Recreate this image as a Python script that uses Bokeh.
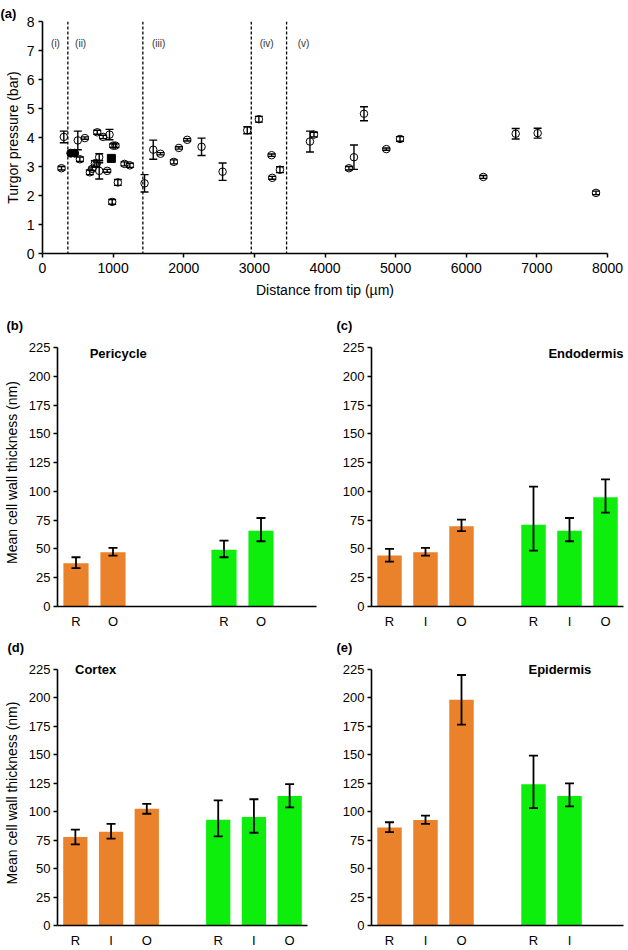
from bokeh.plotting import figure
from bokeh.models import ColumnDataSource, Whisker, TeeHead, Span, Label, FixedTicker
from bokeh.layouts import column, row
from bokeh.embed import file_html
from bokeh.resources import INLINE

FONT = "Liberation Sans"
ORANGE = "#E9822A"
GREEN = "#0DEE0D"

# ---------------- Panel (a) data ----------------
dist_open = [269, 302, 500, 600, 529, 670, 704, 741, 768, 803, 775, 803, 859, 916, 949,
             1001, 1033, 987, 1067, 1161, 1237, 1445, 1568, 1671, 1860, 1931, 2049, 2252,
             2550, 2899, 3064, 3244, 3253, 3362, 3787, 3844, 4339, 4410, 4552, 4868, 5062,
             6242, 6700, 7011, 7837]
turgor_open = [2.94, 4.02, 3.90, 3.98, 3.25, 2.80, 2.92, 3.10, 3.10, 3.32, 4.18, 2.85, 4.02,
               2.85, 4.10, 3.72, 3.72, 1.78, 2.45, 3.09, 3.04, 2.42, 3.58, 3.44, 3.16, 3.64,
               3.92, 3.68, 2.82, 4.25, 4.63, 3.39, 2.61, 2.89, 3.86, 4.10, 2.94, 3.32, 4.82,
               3.60, 3.95, 2.64, 4.13, 4.15, 2.09]
turgor_open_err = [0.06, 0.20, 0.32, 0.04, 0.08, 0.08, 0.06, 0.10, 0.12, 0.12, 0.07, 0.28, 0.06,
                   0.05, 0.18, 0.06, 0.06, 0.08, 0.10, 0.07, 0.07, 0.30, 0.33, 0.04, 0.07, 0.04,
                   0.04, 0.30, 0.30, 0.12, 0.10, 0.04, 0.05, 0.10, 0.36, 0.08, 0.06, 0.42, 0.24,
                   0.04, 0.08, 0.05, 0.18, 0.17, 0.06]
dist_filled = [400, 455]
turgor_filled = [3.46, 3.46]
dist_square = [975]
turgor_square = [3.28]

zone_bounds = [359, 1421, 2956, 3456]
zone_labels = ["(i)", "(ii)", "(iii)", "(iv)", "(v)"]
zone_label_x = [184, 540, 1645, 3173, 3697]
zone_label_y = 7.25

x_ticks_a = [0, 1000, 2000, 3000, 4000, 5000, 6000, 7000, 8000]
y_ticks_a = [0, 1, 2, 3, 4, 5, 6, 7, 8]

# ---------------- Bar panels data ----------------
wall_ticks = [0, 25, 50, 75, 100, 125, 150, 175, 200, 225]
wall_max = 225

peri_orange_cats = ["R", "O"]
peri_orange = [37.6, 47.1]
peri_orange_hi = [42.8, 50.9]
peri_orange_lo = [33.3, 44.2]
peri_green_cats = ["R", "O"]
peri_green = [49.2, 65.9]
peri_green_hi = [57.3, 76.9]
peri_green_lo = [42.8, 56.7]

endo_orange_cats = ["R", "I", "O"]
endo_orange = [44.2, 47.1, 69.7]
endo_orange_hi = [50.0, 50.9, 75.5]
endo_orange_lo = [39.0, 44.2, 65.4]
endo_green_cats = ["R", "I", "O"]
endo_green = [71.1, 65.9, 94.9]
endo_green_hi = [104.1, 76.9, 110.5]
endo_green_lo = [48.6, 56.7, 81.5]

cort_orange_cats = ["R", "I", "O"]
cort_orange = [77.7, 82.3, 102.5]
cort_orange_hi = [84.3, 89.3, 106.9]
cort_orange_lo = [71.3, 76.3, 98.2]
cort_green_cats = ["R", "I", "O"]
cort_green = [93.0, 95.3, 113.8]
cort_green_hi = [110.0, 110.9, 124.2]
cort_green_lo = [78.3, 81.5, 103.7]

epi_orange_cats = ["R", "I", "O"]
epi_orange = [86.1, 92.7, 198.4]
epi_orange_hi = [90.7, 96.5, 220.1]
epi_orange_lo = [82.0, 89.3, 176.5]
epi_green_cats = ["R", "I"]
epi_green = [124.2, 113.8]
epi_green_hi = [149.3, 124.8]
epi_green_lo = [103.1, 104.6]


def style_axes(p, tick_size, label_size):
    for ax in (p.xaxis[0], p.yaxis[0]):
        ax.axis_line_color = "black"
        ax.axis_line_width = 1.6
        ax.major_tick_line_color = "black"
        ax.major_tick_line_width = 1.5
        ax.major_tick_out = 4
        ax.major_tick_in = 0
        ax.minor_tick_line_color = None
        ax.major_label_text_font = FONT
        ax.major_label_text_font_size = tick_size
        ax.major_label_text_color = "black"
        ax.axis_label_text_font = FONT
        ax.axis_label_text_font_size = label_size
        ax.axis_label_text_font_style = "normal"
        ax.axis_label_text_color = "black"
    p.xgrid.grid_line_color = None
    p.ygrid.grid_line_color = None
    p.outline_line_color = None
    p.background_fill_color = "white"
    p.border_fill_color = "white"


def letter_title(p, text, offset, standoff):
    p.title.text = text
    p.title.align = "left"
    p.title.offset = offset
    p.title.standoff = standoff
    p.title.text_font = FONT
    p.title.text_font_size = "13px"
    p.title.text_font_style = "bold"
    p.title.text_color = "black"


# ---------------- Panel (a) ----------------
pa = figure(width=628, height=308, x_range=(0, 8000), y_range=(0, 8),
            output_backend="svg", toolbar_location=None,
            min_border_left=42, min_border_right=21, min_border_top=21, min_border_bottom=55)
style_axes(pa, "14px", "14px")
pa.xaxis.ticker = FixedTicker(ticks=x_ticks_a)
pa.yaxis.ticker = FixedTicker(ticks=y_ticks_a)
pa.xaxis.axis_label = "Distance from tip (µm)"
pa.yaxis.axis_label = "Turgor pressure (bar)"
pa.xaxis.major_label_standoff = 5
pa.yaxis.major_label_standoff = 4
pa.xaxis.axis_label_standoff = 6
pa.yaxis.axis_label_standoff = 3
letter_title(pa, "(a)", -42, 2)

for b in zone_bounds:
    pa.add_layout(Span(location=b, dimension="height", line_color="black",
                       line_width=1.3, line_dash="3 2"))
for lab, lx in zip(zone_labels, zone_label_x):
    pa.add_layout(Label(x=lx, y=zone_label_y, text=lab, text_align="center",
                        text_baseline="middle", text_font=FONT, text_font_size="10px",
                        text_color="#333333"))

src_open = ColumnDataSource(dict(
    x=dist_open, y=turgor_open,
    hi=[v + e for v, e in zip(turgor_open, turgor_open_err)],
    lo=[v - e for v, e in zip(turgor_open, turgor_open_err)]))
pa.add_layout(Whisker(source=src_open, base="x", upper="hi", lower="lo",
                      dimension="height", line_color="black", line_width=1.4,
                      upper_head=TeeHead(size=8, line_width=1.4, line_color="black"),
                      lower_head=TeeHead(size=8, line_width=1.4, line_color="black"),
                      level="overlay"))
pa.scatter("x", "y", source=src_open, marker="circle", size=7.5,
           fill_color=None, line_color="black", line_width=1)
pa.scatter(dist_filled, turgor_filled, marker="circle", size=8,
           fill_color="black", line_color="black")
pa.scatter(dist_square, turgor_square, marker="square", size=8,
           fill_color="black", line_color="black")


# ---------------- Bar panels ----------------
EXTRA_PX = 9  # room above the 225 tick so that titles at the top are not cut


def bar_panel(width, height, borders, frame_h, o_cats, o_vals, o_hi, o_lo,
              g_cats, g_vals, g_hi, g_lo, tissue, tissue_x, tissue_y, tissue_align,
              letter, letter_offset, ylabel):
    left, right, top, bottom = borders
    y_end = wall_max * frame_h / (frame_h - EXTRA_PX)
    p = figure(width=width, height=height, x_range=(0, 7), y_range=(0, y_end),
               output_backend="svg", toolbar_location=None,
               min_border_left=left, min_border_right=right,
               min_border_top=top, min_border_bottom=bottom)
    style_axes(p, "13px", "14px")
    o_pos = [i + 0.5 for i in range(len(o_cats))]
    g_pos = [4 + i + 0.5 for i in range(len(g_cats))]
    p.xaxis.ticker = FixedTicker(ticks=o_pos + g_pos)
    overrides = {}
    for pos, c in zip(o_pos + g_pos, o_cats + g_cats):
        overrides[pos] = c
    p.xaxis.major_label_overrides = overrides
    p.xaxis.major_tick_out = 0
    p.xaxis.major_label_standoff = 7
    p.yaxis.ticker = FixedTicker(ticks=wall_ticks)
    p.yaxis.bounds = (0, wall_max)
    p.yaxis.major_label_standoff = 3
    if ylabel:
        p.yaxis.axis_label = "Mean cell wall thickness (nm)"
        p.yaxis.axis_label_standoff = 6

    for pos, vals, hi, lo, col in ((o_pos, o_vals, o_hi, o_lo, ORANGE),
                                   (g_pos, g_vals, g_hi, g_lo, GREEN)):
        src = ColumnDataSource(dict(x=pos, top=vals, hi=hi, lo=lo))
        p.vbar(x="x", top="top", width=0.68, bottom=0, source=src,
               fill_color=col, line_color=None)
        p.add_layout(Whisker(source=src, base="x", upper="hi", lower="lo",
                             dimension="height", line_color="black", line_width=1.8,
                             upper_head=TeeHead(size=9, line_width=1.8, line_color="black"),
                             lower_head=TeeHead(size=9, line_width=1.8, line_color="black"),
                             level="overlay"))
    p.add_layout(Label(x=tissue_x, y=tissue_y, text=tissue, text_align=tissue_align,
                       text_baseline="middle", text_font=FONT, text_font_size="13px",
                       text_font_style="bold", text_color="black"))
    letter_title(p, letter, letter_offset, 11)
    return p


pb = bar_panel(330, 323, (56, 14, 30, 25), 268,
               peri_orange_cats, peri_orange, peri_orange_hi, peri_orange_lo,
               peri_green_cats, peri_green, peri_green_hi, peri_green_lo,
               "Pericycle", 0.87, 220, "left", "(b)", -51, True)
pc = bar_panel(298, 323, (41, 5, 30, 25), 268,
               endo_orange_cats, endo_orange, endo_orange_hi, endo_orange_lo,
               endo_green_cats, endo_green, endo_green_hi, endo_green_lo,
               "Endodermis", 7.0, 220, "right", "(c)", -35, False)
pd_ = bar_panel(330, 319, (55, 23, 29, 22), 268,
                cort_orange_cats, cort_orange, cort_orange_hi, cort_orange_lo,
                cort_green_cats, cort_green, cort_green_hi, cort_green_lo,
                "Cortex", 0.49, 225, "left", "(d)", -50, True)
pe = bar_panel(298, 319, (41, 5, 29, 22), 268,
               epi_orange_cats, epi_orange, epi_orange_hi, epi_orange_lo,
               epi_green_cats, epi_green, epi_green_hi, epi_green_lo,
               "Epidermis", 4.36, 225, "left", "(e)", -35, False)

layout = column(pa, row(pb, pc), row(pd_, pe))
open("out.html", "w").write(file_html(layout, INLINE))
